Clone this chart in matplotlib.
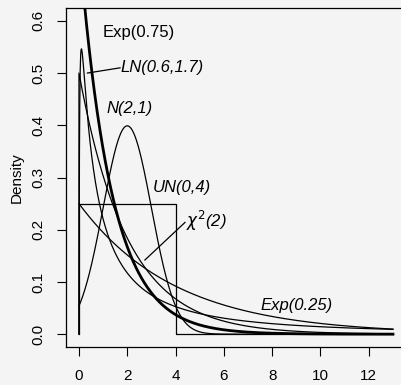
import numpy as np
import matplotlib
matplotlib.use('Agg')
import matplotlib.pyplot as plt

plt.rcParams['font.family'] = ['Liberation Sans', 'DejaVu Sans']

# distribution parameters
exp_rates = [0.75, 0.25]
ln_params = [0.6, 1.7]       # meanlog, sdlog
norm_params = [2, 1]         # mean, sd
unif_bounds = [0, 4]
chi_df = 2
x_max = 13

# label text and anchor positions (data units)
label_text = ['Exp(0.75)', 'LN(0.6,1.7)', 'N(2,1)', 'UN(0,4)', r'$\chi^2$(2)', 'Exp(0.25)']
label_x = [1.0, 1.73, 1.12, 3.07, 4.43, 7.52]
label_y = [0.577, 0.51, 0.432, 0.28, 0.217, 0.054]
label_italic = [False, True, True, True, True, True]
# pointer segments: (x0, y0, x1, y1)
pointers = [(0.35, 0.50, 1.70, 0.51), (2.73, 0.142, 4.39, 0.214)]

x = np.linspace(0, x_max, 2001)
xp = np.where(x > 0, x, 1e-12)

d_exp75 = exp_rates[0] * np.exp(-exp_rates[0] * x)
d_exp25 = exp_rates[1] * np.exp(-exp_rates[1] * x)
mu, s = ln_params
d_ln = np.where(x > 0, np.exp(-(np.log(xp) - mu) ** 2 / (2 * s ** 2)) / (xp * s * np.sqrt(2 * np.pi)), 0)
m, sd = norm_params
d_norm = np.exp(-(x - m) ** 2 / (2 * sd ** 2)) / (sd * np.sqrt(2 * np.pi))
d_chi = 0.5 * np.exp(-x / chi_df)
ux = [unif_bounds[0], unif_bounds[0], unif_bounds[1], unif_bounds[1], x_max]
h = 1 / (unif_bounds[1] - unif_bounds[0])
uy = [0, h, h, 0, 0]

bg = '#f4f4f4'
fig = plt.figure(figsize=(4.01, 3.85), dpi=100, facecolor=bg)
ax = fig.add_axes([66.4 / 401, 38.3 / 385, (405.5 - 66.4) / 401, (346.7 - 8.3) / 385])
ax.set_facecolor(bg)

lw = 0.9
ax.plot(x, d_exp25, color='black', lw=lw)
ax.plot(x, d_ln, color='black', lw=lw)
ax.plot(x, d_norm, color='black', lw=lw)
ax.plot(np.r_[0, x], np.r_[0, d_chi], color='black', lw=lw)
ax.plot(ux, uy, color='black', lw=lw)
ax.plot(x, d_exp75, color='black', lw=2.0)

for t, tx, ty, it in zip(label_text, label_x, label_y, label_italic):
    ax.text(tx, ty, t, fontsize=12, ha='left', va='center',
            style='italic' if it else 'normal')
for x0, y0, x1, y1 in pointers:
    ax.plot([x0, x1], [y0, y1], color='black', lw=lw)

ax.set_xlim(-0.52, 13.52)
ax.set_ylim(-0.024, 0.624)
ax.set_xticks(np.arange(0, 13, 2))
ax.set_yticks(np.arange(0, 0.61, 0.1))
ax.set_yticklabels(['%.1f' % v for v in np.arange(0, 0.61, 0.1)], rotation=90, va='center')
ax.tick_params(length=6.8, width=0.8, labelsize=11, pad=9)
ax.tick_params(axis='y', pad=8)
for sp in ax.spines.values():
    sp.set_linewidth(0.9)
ax.set_ylabel('Density', fontsize=11, labelpad=6)

fig.savefig('out.png', dpi=100, facecolor=bg)
